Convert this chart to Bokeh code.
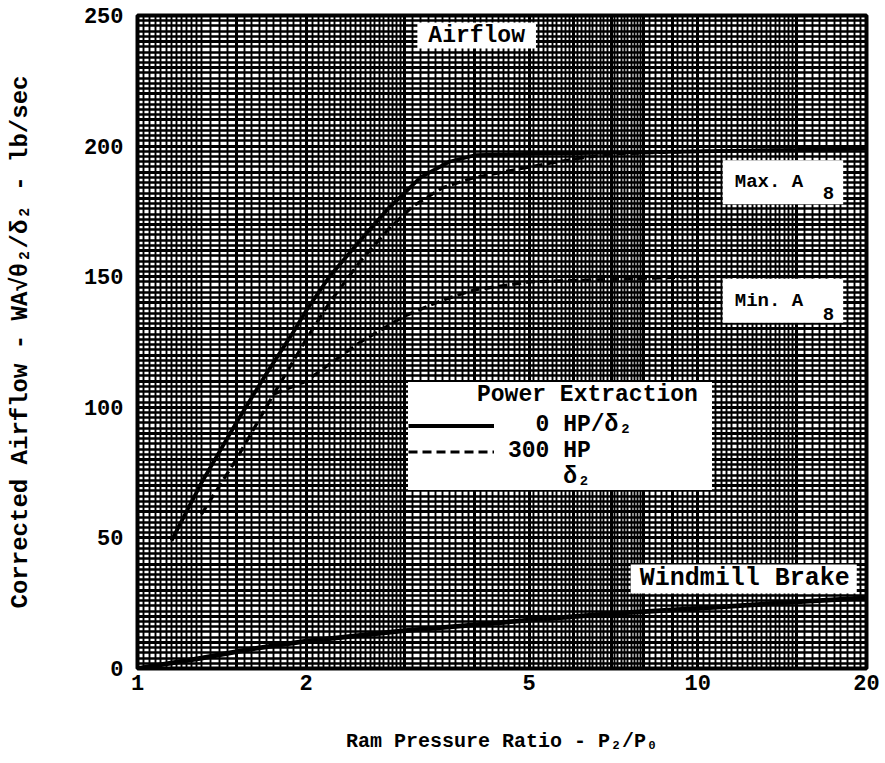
import numpy as np
from bokeh.plotting import figure
from bokeh.models import (FixedTicker, Grid, Label, Legend, LegendItem, Range1d,
                          NumeralTickFormatter)
from bokeh.embed import file_html
from bokeh.resources import INLINE

# ---------------- data ----------------
x_ticks = [1, 2, 5, 10, 20]
y_ticks = [0, 50, 100, 150, 200, 250]

# Max A8, 0 HP/delta2 (solid)
max0_x = [1.15, 1.3, 1.5, 1.7, 1.9, 2.0, 2.2, 2.5, 2.8, 3.2, 3.6, 4.0, 5.0, 7.0, 10.0, 15.0, 20.0]
max0_y = [49, 71, 94, 113, 129, 137, 150, 164, 176, 188, 194, 196.5, 197, 197.5, 198, 198.5, 199]

# Max A8, 300 HP/delta2 (dashed)
max300_x = [1.3, 1.5, 1.75, 2.0, 2.2, 2.5, 2.8, 3.1, 3.5, 4.0, 5.0, 6.0, 7.0, 10.0, 20.0]
max300_y = [59, 80, 105, 126, 140, 156, 168, 177, 184, 188, 192, 195, 197, 198, 199]

# Min A8, 300 HP/delta2 (dashed)
min300_x = [1.75, 2.0, 2.25, 2.5, 3.0, 3.5, 4.0, 5.0, 7.0, 10.0, 20.0]
min300_y = [105, 110, 118, 125, 135, 141, 145, 148, 149, 150, 150]

# Windmill brake (solid)
wm_x = [1.0, 1.3, 1.6, 2.0, 3.0, 5.0, 7.0, 10.0, 15.0, 20.0]
wm_y = [0, 4, 7.5, 10.5, 14.5, 18.5, 21, 23, 25.5, 27]

FONT = "Liberation Mono"

p = figure(width=885, height=763, x_axis_type="log",
           x_range=Range1d(1, 20), y_range=Range1d(0, 250),
           output_backend="svg", toolbar_location=None,
           min_border_left=137, min_border_right=19,
           min_border_top=15, min_border_bottom=95,
           background_fill_color="white", border_fill_color="white")

p.outline_line_color = "black"
p.outline_line_width = 4

# ---------------- graph-paper grid ----------------
x_minor = np.concatenate([
    np.arange(1.0, 1.3, 0.025), np.arange(1.3, 2.0, 0.05), np.arange(2.0, 3.0, 0.05),
    np.arange(3.0, 5.0, 0.1), np.arange(5.0, 8.0, 0.1), np.arange(8.0, 10.0, 0.2),
    np.arange(10.0, 15.0, 0.25), np.arange(15.0, 20.01, 0.5)])
x_minor = sorted(set(np.round(x_minor, 3).tolist()))
x_heavy = [1, 1.5, 2, 3, 4, 5, 6, 7, 8, 9, 10, 15, 20]
y_minor = list(range(0, 251, 2))
y_heavy = list(range(0, 251, 10))

p.xgrid[0].ticker = FixedTicker(ticks=x_minor)
p.xgrid[0].grid_line_color = "black"
p.xgrid[0].grid_line_width = 1.9
p.ygrid[0].ticker = FixedTicker(ticks=y_minor)
p.ygrid[0].grid_line_color = "black"
p.ygrid[0].grid_line_width = 2.6
p.add_layout(Grid(dimension=0, ticker=FixedTicker(ticks=x_heavy),
                  grid_line_color="black", grid_line_width=3.0))
p.add_layout(Grid(dimension=1, ticker=FixedTicker(ticks=y_heavy),
                  grid_line_color="black", grid_line_width=3.2))

# ---------------- axes ----------------
for ax in (p.xaxis[0], p.yaxis[0]):
    ax.axis_line_color = None
    ax.major_tick_out = 0
    ax.major_tick_in = 0
    ax.minor_tick_out = 0
    ax.minor_tick_in = 0
    ax.major_label_text_font = FONT
    ax.major_label_text_font_style = "bold"
    ax.major_label_text_font_size = "22px"
    ax.major_label_text_color = "black"
    ax.axis_label_text_font = FONT
    ax.axis_label_text_font_style = "bold"
    ax.axis_label_text_color = "black"

p.xaxis.ticker = FixedTicker(ticks=x_ticks)
p.xaxis.formatter = NumeralTickFormatter(format="0")
p.xaxis.major_label_standoff = 6
p.xaxis.axis_label = "Ram Pressure Ratio - P₂/P₀"
p.xaxis.axis_label_text_font_size = "20px"
p.xaxis.axis_label_standoff = 37

p.yaxis.ticker = FixedTicker(ticks=y_ticks)
p.yaxis.major_label_standoff = 14
p.yaxis.axis_label = "Corrected Airflow - WA√θ₂/δ₂ - lb/sec"
p.yaxis.axis_label_text_font_size = "24px"
p.yaxis.axis_label_standoff = 47

# ---------------- curves ----------------
r_solid = p.line(max0_x, max0_y, line_color="black", line_width=3.8)
r_dash = p.line(max300_x, max300_y, line_color="black", line_width=3.2, line_dash="9 5")
p.line(min300_x, min300_y, line_color="black", line_width=3.2, line_dash="9 5")
p.line(wm_x, wm_y, line_color="black", line_width=4.8)
r_blank = p.line([], [], line_alpha=0)   # only carries the denominator row of the legend

# ---------------- labels in white boxes ----------------
def boxed(x, y, text, size, pad, align="left"):
    lab = Label(x=x, y=y, text=text, text_font=FONT, text_font_style="bold",
                text_font_size=size, text_color="black", text_align=align,
                text_baseline="middle", background_fill_color="white",
                background_fill_alpha=1.0, padding=pad)
    p.add_layout(lab)

boxed(4.03, 242.3, "Airflow", "23px", dict(left=11, right=11, top=0, bottom=0), align="center")
boxed(11.08, 186.2, "Max. A", "19px", dict(left=12, right=40, top=11, bottom=11))
boxed(11.08, 140.8, "Min. A", "19px", dict(left=12, right=40, top=11, bottom=11))
boxed(7.59, 34.3, "Windmill Brake", "25px", dict(left=9, right=7, top=0, bottom=0))

for yy in (182.0, 135.8):
    p.add_layout(Label(x=17.1, y=yy, text="8", text_font=FONT, text_font_style="bold",
                       text_font_size="19px", text_color="black", text_align="center",
                       text_baseline="middle"))

# ---------------- legend ----------------
legend = Legend(items=[LegendItem(label="\u00a0\u00a00 HP/δ₂", renderers=[r_solid]),
                       LegendItem(label="300 HP", renderers=[r_dash]),
                       LegendItem(label="\u00a0\u00a0\u00a0\u00a0δ₂", renderers=[r_blank])],
                title="\u00a0\u00a0\u00a0\u00a0\u00a0Power Extraction\u00a0",
                location=(271, 178), margin=0, padding=6,
                spacing=0, glyph_width=86, glyph_height=25,
                label_standoff=14, label_width=170, label_height=25,
                title_standoff=4,
                background_fill_color="white", background_fill_alpha=1.0,
                border_line_color=None)
legend.label_text_font = FONT
legend.label_text_font_style = "bold"
legend.label_text_font_size = "23px"
legend.label_text_color = "black"
legend.title_text_font = FONT
legend.title_text_font_style = "bold"
legend.title_text_font_size = "23px"
legend.title_text_color = "black"
p.add_layout(legend)

open("out.html", "w").write(file_html(p, INLINE))
